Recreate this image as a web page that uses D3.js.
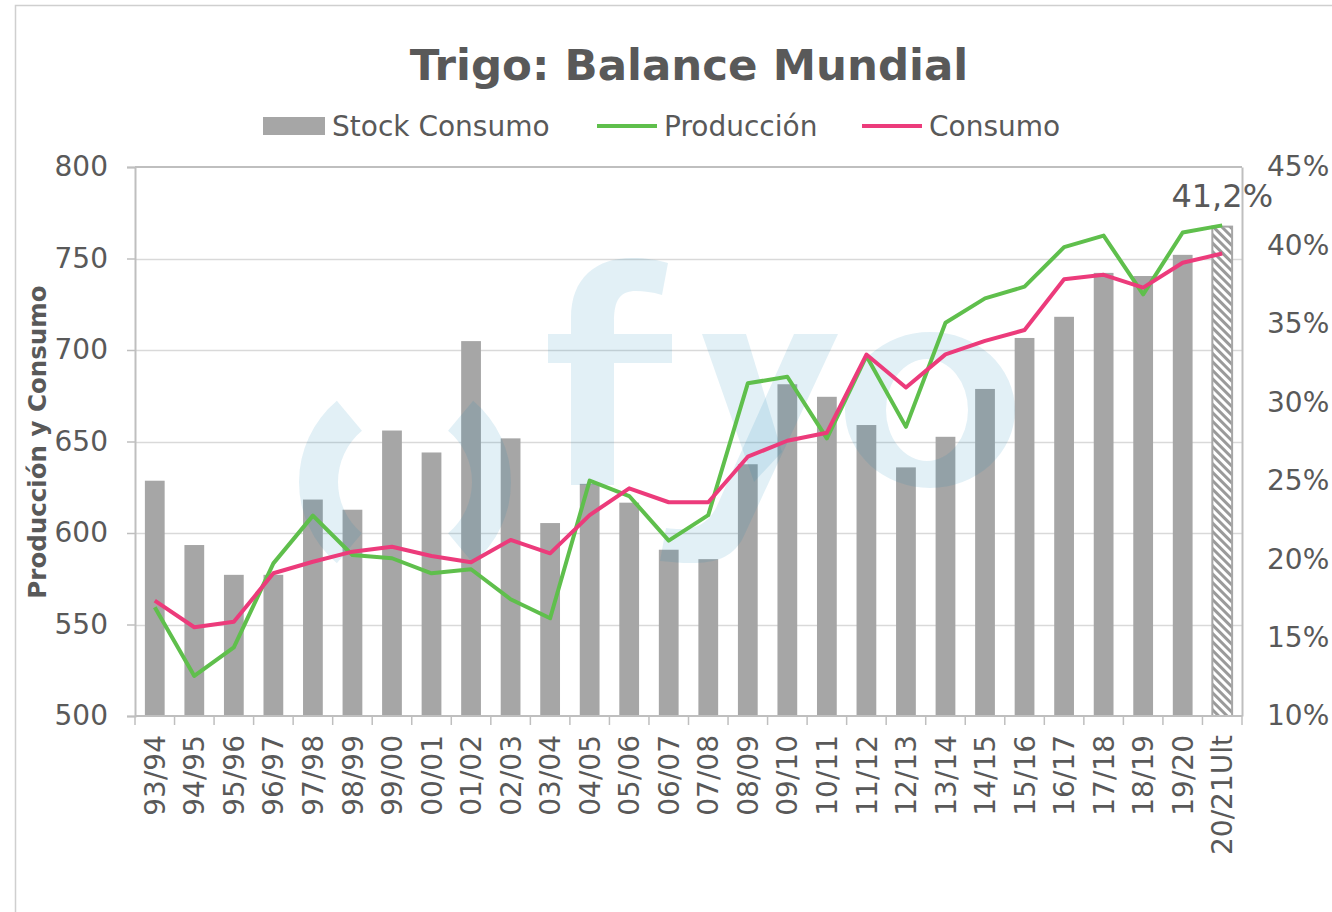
<!DOCTYPE html>
<html>
<head>
<meta charset="utf-8">
<script src="https://cdn.jsdelivr.net/npm/d3@7"></script>
<style>
  html, body { margin: 0; padding: 0; background: #fff; }
  svg { display: block; font-family: 'DejaVu Sans', Verdana, sans-serif; }
</style>
</head>
<body>
<div id="chart"></div>
<script>
// ─── Data ───────────────────────────────────────────────────────
const categories = ['93/94', '94/95', '95/96', '96/97', '97/98', '98/99', '99/00', '00/01', '01/02', '02/03',
    '03/04', '04/05', '05/06', '06/07', '07/08', '08/09', '09/10', '10/11', '11/12', '12/13',
    '13/14', '14/15', '15/16', '16/17', '17/18', '18/19', '19/20', '20/21Ult'];

// Stock / Consumo (%), right axis
const stockConsumo = [25.0, 20.9, 19.0, 19.0, 23.8, 23.15, 28.2, 26.8, 33.9, 27.7,
    22.3, 24.8, 23.6, 20.6, 20.0, 26.05, 31.15, 30.35, 28.55, 25.85,
    27.8, 30.85, 34.1, 35.45, 38.25, 38.05, 39.4, 41.2];

// Producción y Consumo (mill. tn), left axis
const produccion = [559.4, 521.9, 537.5, 583.4, 609.5, 588, 586.2, 578, 580.2, 563.8,
    553.4, 628.6, 620.2, 595.8, 609.8, 681.8, 685.4, 651.7, 696.7, 658,
    714.9, 728.2, 734.6, 756.2, 762.5, 730.4, 764.2, 768.1];
const consumo = [563, 548.5, 551.5, 578, 584.3, 589.8, 592.5, 587.4, 584, 596.2,
    588.9, 609.8, 624.4, 616.8, 616.8, 641.7, 650.4, 654.8, 697.5, 679.5,
    697.6, 705, 710.9, 738.7, 741.1, 734.1, 747.7, 752.7];

const leftTicks = [500, 550, 600, 650, 700, 750, 800];
const rightTicks = [10, 15, 20, 25, 30, 35, 40, 45];
const lastLabel = '41,2%';

// ─── Layout ─────────────────────────────────────────────────────
const W = 1332, H = 912;
const plot = { left: 135, right: 1242, top: 167, bottom: 716 };
const TEXT = '#595959';
const AXIS = '#bfbfbf';
const GRID = '#d9d9d9';
const BAR = '#a6a6a6';
const GREEN = '#5fbf4c';
const PINK = '#ec3b7b';
const FS = 28;

const svg = d3.select('#chart').append('svg')
    .attr('width', W)
    .attr('height', H);

const defs = svg.append('defs');
const pat = defs.append('pattern')
    .attr('id', 'hatch')
    .attr('patternUnits', 'userSpaceOnUse')
    .attr('width', 6)
    .attr('height', 6)
    .attr('patternTransform', 'rotate(-45)');
pat.append('rect').attr('width', 6).attr('height', 6).attr('fill', '#fff');
pat.append('rect').attr('width', 3).attr('height', 6).attr('fill', '#9a9a9a');

// outer frame
svg.append('rect')
    .attr('x', 15.5).attr('y', 5.5)
    .attr('width', 1400).attr('height', 1000)
    .attr('fill', 'none')
    .attr('stroke', '#cfcfcf')
    .attr('stroke-width', 1.5);

const x = d3.scaleBand()
    .domain(categories)
    .range([plot.left, plot.right])
    .paddingInner(0.5)
    .paddingOuter(0.25);

const yL = d3.scaleLinear().domain([500, 800]).range([plot.bottom, plot.top]);
const yR = d3.scaleLinear().domain([10, 45]).range([plot.bottom, plot.top]);

// ── Title & legend ──────────────────────────────────────────────
svg.append('text')
    .attr('x', 689).attr('y', 80)
    .attr('text-anchor', 'middle')
    .attr('font-size', 43.5)
    .attr('font-weight', 'bold')
    .attr('fill', TEXT)
    .text('Trigo: Balance Mundial');

const legend = svg.append('g').attr('font-size', FS).attr('fill', TEXT);
legend.append('rect').attr('x', 263).attr('y', 117).attr('width', 62).attr('height', 18).attr('fill', BAR);
legend.append('text').attr('x', 332).attr('y', 136).text('Stock Consumo');
legend.append('line').attr('x1', 597).attr('x2', 657).attr('y1', 126).attr('y2', 126)
    .attr('stroke', GREEN).attr('stroke-width', 4);
legend.append('text').attr('x', 664).attr('y', 136).text('Producción');
legend.append('line').attr('x1', 862).attr('x2', 922).attr('y1', 126).attr('y2', 126)
    .attr('stroke', PINK).attr('stroke-width', 4);
legend.append('text').attr('x', 929).attr('y', 136).text('Consumo');

// ── Grid ────────────────────────────────────────────────────────
svg.append('g')
    .selectAll('line')
    .data(leftTicks.slice(1, -1))
    .join('line')
    .attr('x1', plot.left).attr('x2', plot.right)
    .attr('y1', d => Math.round(yL(d)) + 0.5)
    .attr('y2', d => Math.round(yL(d)) + 0.5)
    .attr('stroke', GRID)
    .attr('stroke-width', 1.5);

// ── Bars ────────────────────────────────────────────────────────
const lastIdx = categories.length - 1;
svg.append('g')
    .selectAll('rect')
    .data(categories)
    .join('rect')
    .attr('x', d => x(d))
    .attr('y', (d, i) => yR(stockConsumo[i]))
    .attr('width', x.bandwidth())
    .attr('height', (d, i) => plot.bottom - yR(stockConsumo[i]))
    .attr('fill', (d, i) => i === lastIdx ? 'url(#hatch)' : BAR)
    .attr('stroke', (d, i) => i === lastIdx ? BAR : 'none')
    .attr('stroke-width', 2);

// ── Watermark (fyo logo) ────────────────────────────────────────
const wm = svg.append('g')
    .attr('fill', '#0d82b4')
    .attr('fill-opacity', 0.12);
const ring = d3.arc().innerRadius(67).outerRadius(106);
wm.append('path')
    .attr('transform', 'translate(405,482)')
    .attr('d', ring({ startAngle: 220 * Math.PI / 180, endAngle: 320 * Math.PI / 180 }));
wm.append('path')
    .attr('transform', 'translate(405,482)')
    .attr('d', ring({ startAngle: 40 * Math.PI / 180, endAngle: 140 * Math.PI / 180 }));
// f
wm.append('path')
    .attr('d', 'M571,485 L571,318 C571,278 596,258 632,258 C646,258 658,260 668,263 L662,295 ' +
        'C652,292 644,291 636,291 C620,291 614,300 614,322 L614,485 Z ' +
        'M548,334 L571,334 L571,363 L548,363 Z M614,334 L672,334 L672,363 L614,363 Z');
// y
wm.append('path')
    .attr('d', 'M702,334 L746,334 L782,452 L754,482 Z');
wm.append('path')
    .attr('d', 'M794,334 L838,334 L742,540 C728,563 705,566 660,561 L666,528 ' +
        'C690,531 705,528 716,508 Z');
// o
wm.append('path')
    .attr('fill-rule', 'evenodd')
    .attr('d', 'M845,410 A85,78 0 1,0 1015,410 A85,78 0 1,0 845,410 Z ' +
        'M886,410 A41,51 0 1,0 968,410 A41,51 0 1,0 886,410 Z');

// ── Lines ───────────────────────────────────────────────────────
const line = d3.line()
    .x((d, i) => x(categories[i]) + x.bandwidth() / 2)
    .y(d => yL(d));

svg.append('path')
    .datum(produccion)
    .attr('d', line)
    .attr('fill', 'none')
    .attr('stroke', GREEN)
    .attr('stroke-width', 4)
    .attr('stroke-linejoin', 'round');

svg.append('path')
    .datum(consumo)
    .attr('d', line)
    .attr('fill', 'none')
    .attr('stroke', PINK)
    .attr('stroke-width', 4)
    .attr('stroke-linejoin', 'round');

// ── Axes ────────────────────────────────────────────────────────
const axL = svg.append('g')
    .attr('transform', `translate(${plot.left},0)`)
    .call(d3.axisLeft(yL).tickValues(leftTicks).tickSize(8).tickPadding(19));
axL.select('.domain').attr('stroke', AXIS).attr('stroke-width', 2);
axL.selectAll('.tick line').attr('stroke', AXIS).attr('stroke-width', 1.5);
axL.selectAll('.tick text')
    .attr('fill', TEXT)
    .attr('font-size', FS)
    .attr('font-family', "'DejaVu Sans', Verdana, sans-serif");

const axR = svg.append('g')
    .attr('transform', `translate(${plot.right},0)`)
    .call(d3.axisRight(yR).tickValues(rightTicks).tickSize(0).tickPadding(25).tickFormat(d => d + '%'));
axR.select('.domain').attr('stroke', AXIS).attr('stroke-width', 2);
axR.selectAll('.tick text')
    .attr('fill', TEXT)
    .attr('font-size', FS)
    .attr('font-family', "'DejaVu Sans', Verdana, sans-serif");

// top border of plot area
svg.append('line')
    .attr('x1', plot.left).attr('x2', plot.right)
    .attr('y1', plot.top).attr('y2', plot.top)
    .attr('stroke', AXIS).attr('stroke-width', 2);

// bottom axis with ticks between categories
const bottom = svg.append('g');
bottom.append('line')
    .attr('x1', plot.left).attr('x2', plot.right)
    .attr('y1', plot.bottom).attr('y2', plot.bottom)
    .attr('stroke', AXIS).attr('stroke-width', 2);
bottom.selectAll('line.tk')
    .data(d3.range(categories.length + 1))
    .join('line')
    .attr('class', 'tk')
    .attr('x1', i => plot.left + i * x.step())
    .attr('x2', i => plot.left + i * x.step())
    .attr('y1', plot.bottom)
    .attr('y2', plot.bottom + 9)
    .attr('stroke', AXIS).attr('stroke-width', 1.5);
bottom.selectAll('text')
    .data(categories)
    .join('text')
    .attr('transform', d => `translate(${x(d) + x.bandwidth() / 2},735) rotate(-90)`)
    .attr('dy', '0.36em')
    .attr('text-anchor', 'end')
    .attr('font-size', FS)
    .attr('fill', TEXT)
    .text(d => d);

// ── Y axis title ────────────────────────────────────────────────
svg.append('text')
    .attr('transform', 'translate(46,442) rotate(-90)')
    .attr('text-anchor', 'middle')
    .attr('font-size', 24.5)
    .attr('font-weight', 'bold')
    .attr('fill', TEXT)
    .text('Producción y Consumo');

// ── Last value label ────────────────────────────────────────────
svg.append('text')
    .attr('x', x(categories[lastIdx]) + x.bandwidth() / 2)
    .attr('y', yR(stockConsumo[lastIdx]) - 20)
    .attr('text-anchor', 'middle')
    .attr('font-size', 32)
    .attr('fill', TEXT)
    .text(lastLabel);
</script>
</body>
</html>
